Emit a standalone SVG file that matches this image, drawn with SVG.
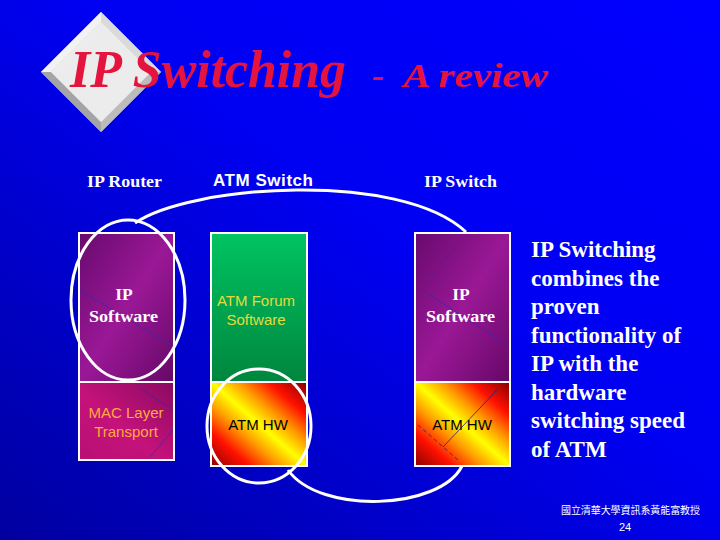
<svg xmlns="http://www.w3.org/2000/svg" width="720" height="540" viewBox="0 0 720 540">
<defs>
<linearGradient id="bg" x1="1" y1="0" x2="0" y2="1">
<stop offset="0" stop-color="#0000ff"/>
<stop offset="0.45" stop-color="#0000f2"/>
<stop offset="1" stop-color="#0000a0"/>
</linearGradient>
<linearGradient id="purple" x1="0" y1="0" x2="1" y2="1">
<stop offset="0" stop-color="#680a6e"/>
<stop offset="0.5" stop-color="#9a1896"/>
<stop offset="1" stop-color="#660868"/>
</linearGradient>
<linearGradient id="mac" x1="1" y1="0" x2="0" y2="1">
<stop offset="0" stop-color="#8a0a62"/>
<stop offset="0.55" stop-color="#c4127a"/>
<stop offset="1" stop-color="#b81074"/>
</linearGradient>
<linearGradient id="green" x1="0" y1="0" x2="0" y2="1">
<stop offset="0" stop-color="#00c462"/>
<stop offset="1" stop-color="#00863e"/>
</linearGradient>
<linearGradient id="hw" x1="0" y1="1" x2="1" y2="0">
<stop offset="0" stop-color="#8a0000"/>
<stop offset="0.2" stop-color="#ff1000"/>
<stop offset="0.36" stop-color="#ff9a00"/>
<stop offset="0.5" stop-color="#ffff00"/>
<stop offset="0.64" stop-color="#ff9a00"/>
<stop offset="0.8" stop-color="#ff1000"/>
<stop offset="1" stop-color="#800000"/>
</linearGradient>
<style>
.box{stroke:#ffffff;stroke-width:2}
.serif{font-family:"Liberation Serif","Times New Roman",serif;font-weight:bold;fill:#ffffff}
.sans{font-family:"Liberation Sans",Arial,sans-serif}
.wire{fill:none;stroke:#ffffff;stroke-width:3}
.art{fill:none;stroke:#2a2ab0;stroke-width:0.8;opacity:0.8}
.title{font-family:"Liberation Serif","Times New Roman",serif;font-style:italic;font-weight:bold;fill:#e4143e}
</style>
</defs>
<rect x="0" y="0" width="720" height="540" fill="url(#bg)"/>

<g id="logo">
<polygon points="101,12 161,72 101,132 41,72" fill="#d6d6d6"/>
<polygon points="101,12 41,72 51,72 101,22" fill="#f2f2f2"/>
<polygon points="101,12 161,72 151,72 101,22" fill="#dadada"/>
<polygon points="41,72 101,132 101,122 51,72" fill="#a4a4a4"/>
<polygon points="161,72 101,132 101,122 151,72" fill="#bcbcbc"/>
<polygon points="101,22 151,72 101,122 51,72" fill="#ececec"/>
</g>

<g id="title">
<text class="title" x="70" y="87" font-size="52" textLength="276" lengthAdjust="spacingAndGlyphs">IP Switching</text>
<text class="title" x="372" y="87" font-size="36">-</text>
<text class="title" x="403" y="87" font-size="34" textLength="145" lengthAdjust="spacingAndGlyphs">A review</text>
</g>

<g id="labels">
<text class="serif" x="87" y="187" font-size="17.5" textLength="75" lengthAdjust="spacingAndGlyphs">IP Router</text>
<text class="sans" x="213" y="186" font-size="17" font-weight="bold" fill="#ffffff" textLength="100">ATM Switch</text>
<text class="serif" x="424" y="187" font-size="17.5" textLength="73" lengthAdjust="spacingAndGlyphs">IP Switch</text>
</g>

<g id="router-ip">
<rect class="box" x="79" y="233" width="95" height="149" fill="url(#purple)"/>
<line class="art" x1="80" y1="290" x2="172" y2="346"/>
<text class="serif" x="124" y="300" font-size="17.5" text-anchor="middle">IP</text>
<text class="serif" x="89" y="322" font-size="17.5" textLength="69" lengthAdjust="spacingAndGlyphs">Software</text>
</g>
<g id="router-mac">
<rect class="box" x="79" y="382" width="95" height="78" fill="url(#mac)"/>
<line class="art" x1="140" y1="388" x2="173" y2="410"/>
<line class="art" x1="150" y1="457" x2="173" y2="430"/>
<text class="sans" x="126" y="418" font-size="15" fill="#ffaa3c" text-anchor="middle">MAC Layer</text>
<text class="sans" x="126" y="437" font-size="15" fill="#ffaa3c" text-anchor="middle">Transport</text>
</g>

<g id="atm-sw">
<rect class="box" x="211" y="233" width="96" height="149" fill="url(#green)"/>
<text class="sans" x="256" y="306" font-size="15" fill="#e2dc3c" text-anchor="middle">ATM Forum</text>
<text class="sans" x="256" y="325" font-size="15" fill="#e2dc3c" text-anchor="middle">Software</text>
</g>
<g id="atm-hw">
<rect class="box" x="211" y="382" width="96" height="84" fill="url(#hw)"/>
<text class="sans" x="258" y="430" font-size="15" fill="#000000" text-anchor="middle">ATM HW</text>
</g>

<g id="ipsw-ip">
<rect class="box" x="415" y="233" width="95" height="149" fill="url(#purple)"/>
<line class="art" x1="425" y1="292" x2="508" y2="345"/>
<line class="art" x1="425" y1="283" x2="456" y2="247" stroke-dasharray="2,3"/>
<text class="serif" x="461" y="300" font-size="17.5" text-anchor="middle">IP</text>
<text class="serif" x="426" y="322" font-size="17.5" textLength="69" lengthAdjust="spacingAndGlyphs">Software</text>
</g>
<g id="ipsw-hw">
<rect class="box" x="415" y="382" width="95" height="84" fill="url(#hw)"/>
<line x1="443" y1="447" x2="497" y2="390" stroke="#20208a" stroke-width="0.8"/>
<line x1="418" y1="425" x2="458" y2="460" stroke="#20208a" stroke-width="0.8" stroke-dasharray="4,3"/>
<text class="sans" x="462" y="430" font-size="15" fill="#000000" text-anchor="middle">ATM HW</text>
</g>

<g id="connectors">
<ellipse class="wire" cx="128" cy="300" rx="57" ry="80"/>
<ellipse class="wire" cx="259" cy="426" rx="52" ry="57"/>
<path class="wire" d="M135,223 C190,185 400,170 466,232"/>
<path class="wire" d="M288,470 C320,515 440,510 462,466"/>
</g>

<g id="summary">
<text class="serif" font-size="23">
<tspan x="531" y="257">IP Switching</tspan>
<tspan x="531" y="285.5">combines the</tspan>
<tspan x="531" y="314">proven</tspan>
<tspan x="531" y="342.5">functionality of</tspan>
<tspan x="531" y="371">IP with the</tspan>
<tspan x="531" y="399.5">hardware</tspan>
<tspan x="531" y="428">switching speed</tspan>
<tspan x="531" y="456.5">of ATM</tspan>
</text>
</g>

<g id="footer">
<text x="561" y="514" font-size="10" fill="#ffffff" font-family="'Noto Sans CJK TC','Noto Sans CJK SC',sans-serif" textLength="139">國立清華大學資訊系黃能富教授</text>
<text x="625" y="531" font-size="11" fill="#ffffff" font-family="'Liberation Sans',Arial,sans-serif" text-anchor="middle">24</text>
</g>
</svg>
